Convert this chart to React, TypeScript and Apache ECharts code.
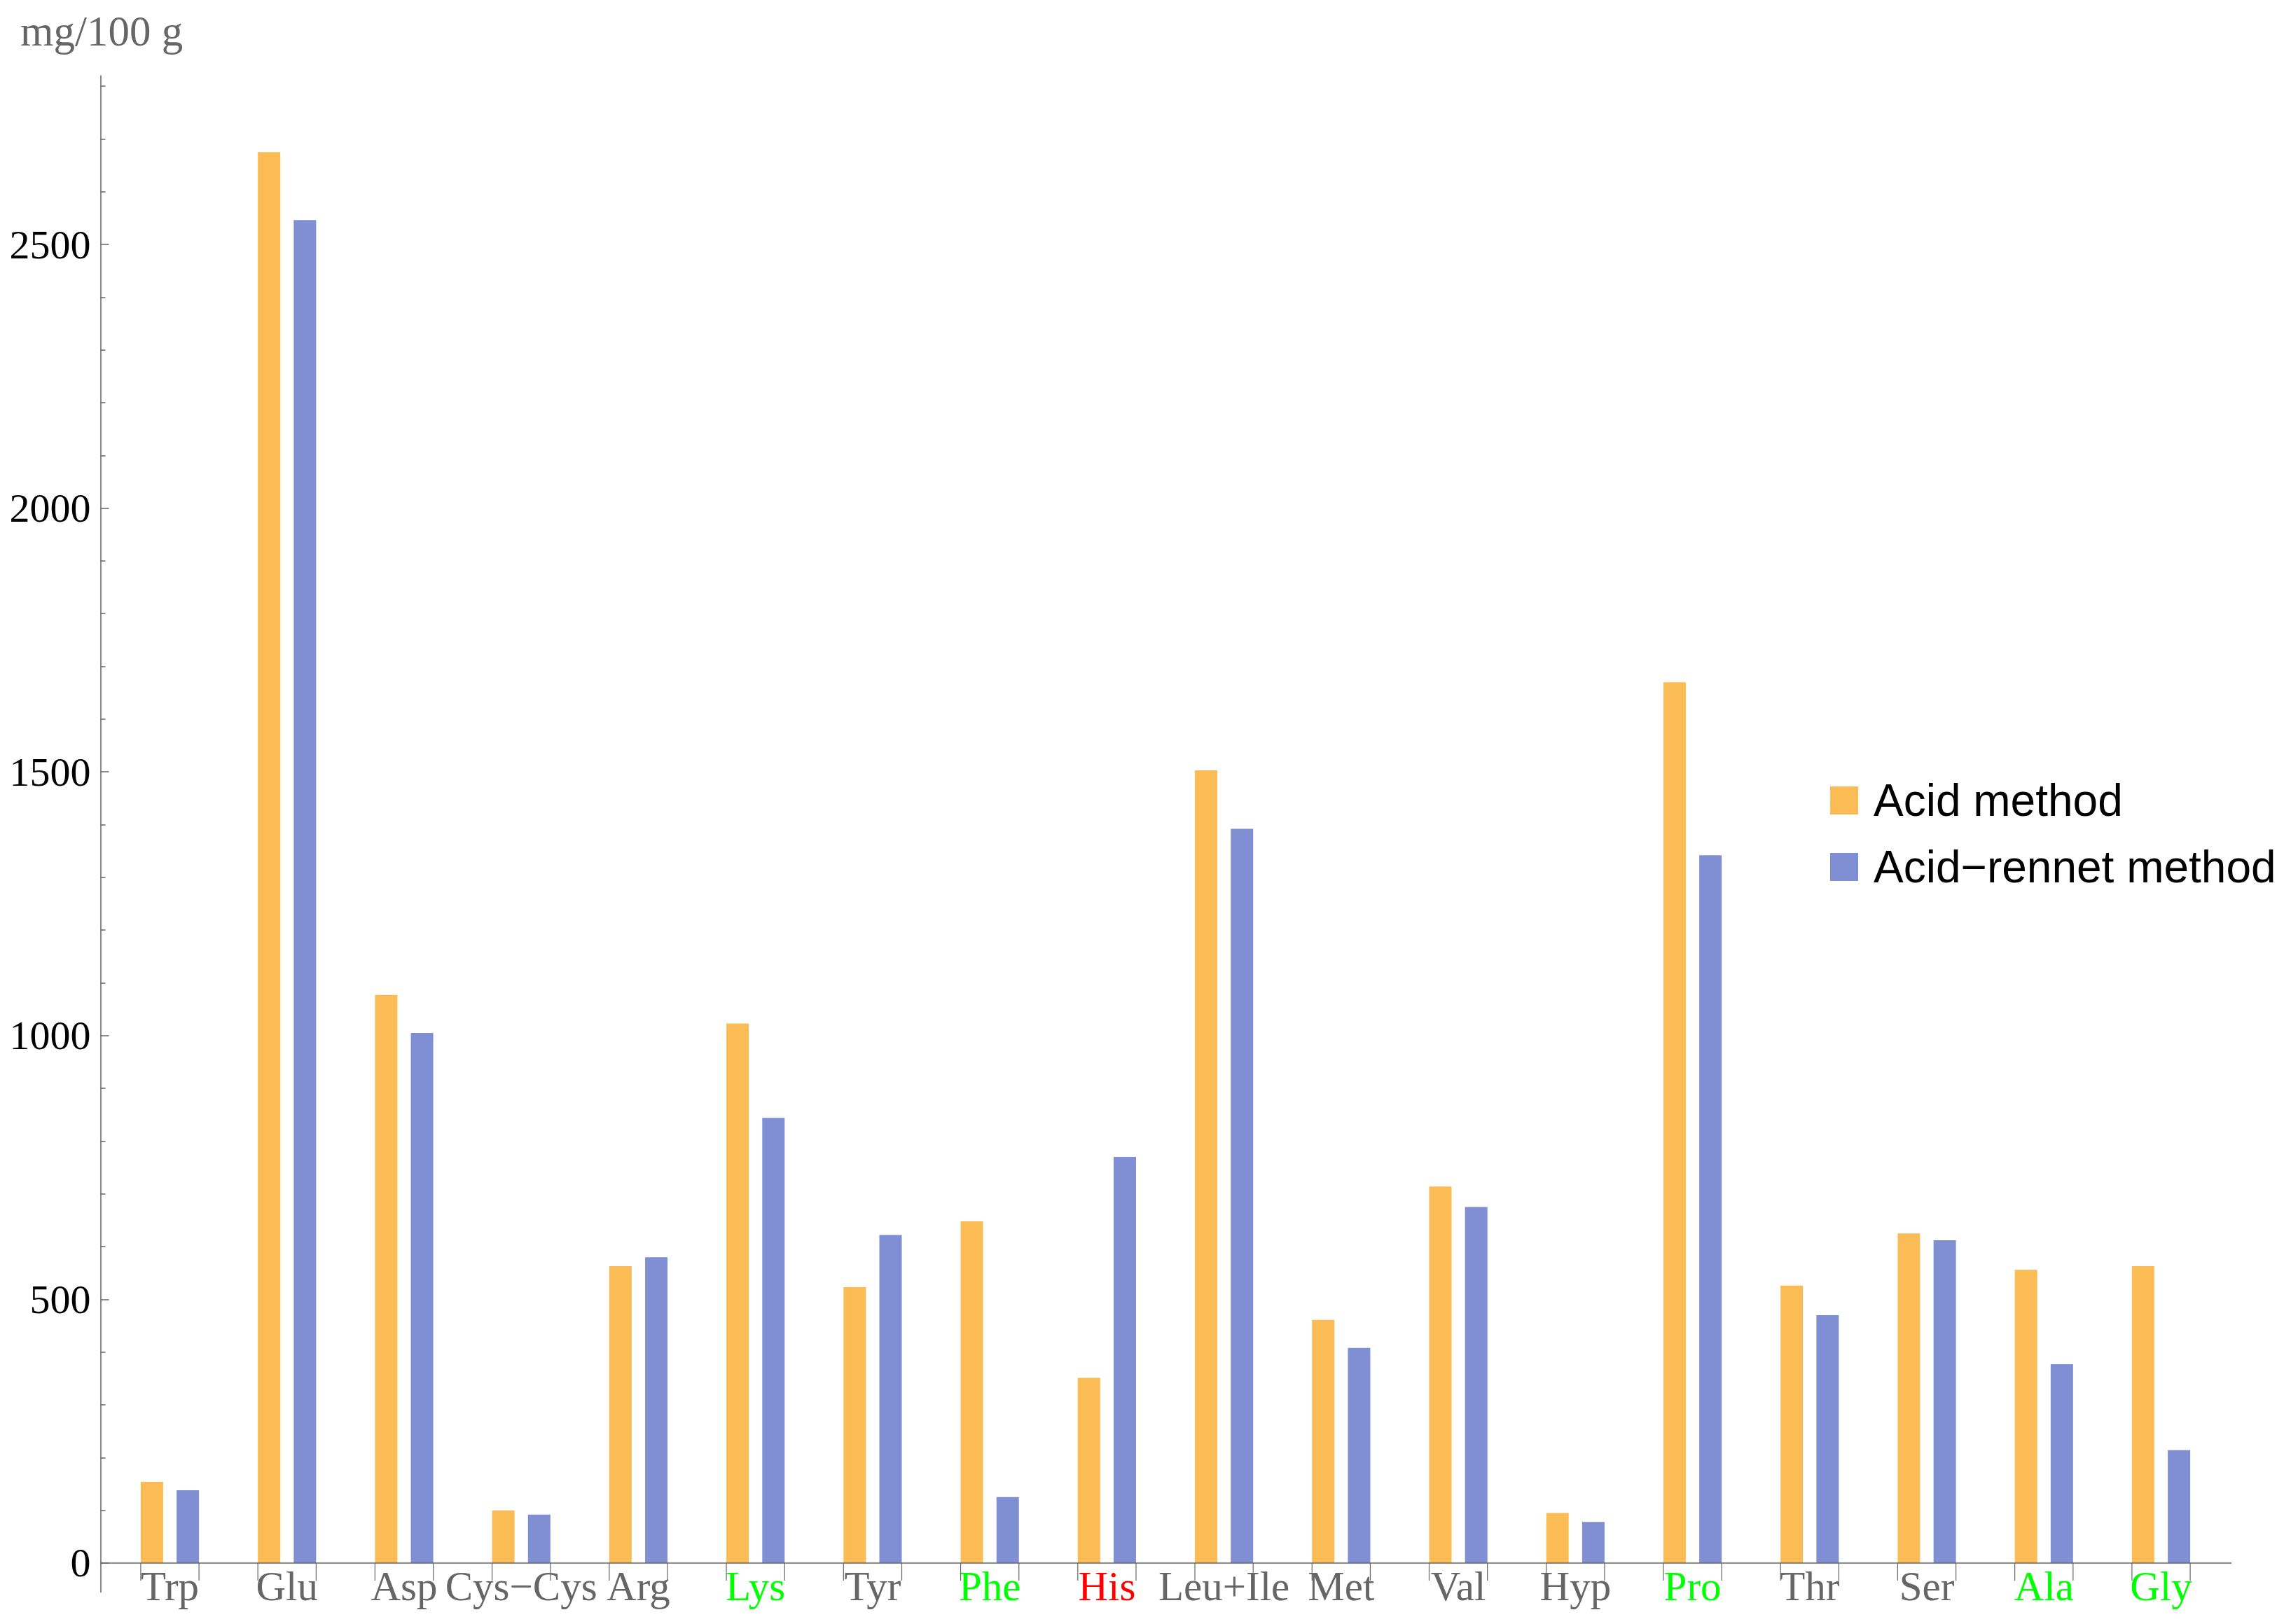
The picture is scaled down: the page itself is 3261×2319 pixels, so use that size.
import React, { useEffect, useRef } from "react";
import * as echarts from "echarts";

const categories = ["Trp", "Glu", "Asp", "Cys−Cys", "Arg", "Lys", "Tyr", "Phe", "His", "Leu+Ile", "Met", "Val", "Hyp", "Pro", "Thr", "Ser", "Ala", "Gly"];
const labelColors = ["#666666", "#666666", "#666666", "#666666", "#666666", "#00FF00", "#666666", "#00FF00", "#FF0000", "#666666", "#666666", "#666666", "#666666", "#00FF00", "#666666", "#666666", "#00FF00", "#00FF00"];
const acidMethod = [154, 2675, 1077, 100, 563, 1023, 523, 648, 351, 1503, 461, 714, 95, 1670, 526, 625, 556, 563];
const acidRennetMethod = [138, 2546, 1005, 92, 580, 844, 622, 125, 770, 1392, 408, 675, 78, 1342, 470, 612, 377, 214];
const seriesNames = ["Acid method", "Acid−rennet method"];
const majorTicks = [0, 500, 1000, 1500, 2000, 2500];
const minorTicks = [100, 200, 300, 400, 600, 700, 800, 900, 1100, 1200, 1300, 1400, 1600, 1700, 1800, 1900, 2100, 2200, 2300, 2400, 2600, 2700, 2800];
const yName = "mg/100 g";

const ORANGE = "#FBBC55";
const BLUE = "#808FD4";
const AXIS = "#666666";
const SERIF = "'Liberation Serif', 'Times New Roman', serif";
const SANS = "'Liberation Sans', Arial, sans-serif";

export default function App() {
  const ref = useRef<HTMLDivElement>(null);
  useEffect(() => {
    if (!ref.current) return;
    const chart = echarts.init(ref.current, null, { renderer: "svg" });
    const W = 3261;
    const gridLeft = 158.9;
    const gridRight = 91.9;
    const yOffset = gridLeft - 143.5;
    const half = 41.6;
    const option: any = {
      animation: false,
      backgroundColor: "#ffffff",
      grid: { left: gridLeft, right: gridRight, top: 108, bottom: 45.6, containLabel: false, outerBoundsMode: "none" },
      legend: {
        orient: "vertical",
        left: 2608,
        top: 1106,
        itemWidth: 40,
        itemHeight: 40,
        itemGap: 31,
        icon: "rect",
        data: seriesNames,
        textStyle: { fontSize: 64, fontFamily: SANS, color: "#000000", padding: [0, 0, 0, 17] },
      },
      xAxis: {
        type: "category",
        data: categories.map((c, i) => ({ value: c, textStyle: { color: labelColors[i] } })),
        boundaryGap: true,
        axisLine: { show: false, onZero: false },
        axisTick: { show: false },
        axisLabel: { margin: -38, fontSize: 59, fontFamily: SERIF, color: AXIS, interval: 0 },
        splitLine: { show: false },
      },
      yAxis: [
        {
          type: "value",
          position: "left",
          min: -55,
          max: 2820,
          offset: yOffset,
          axisLine: { show: true, onZero: false, lineStyle: { color: AXIS, width: 1.5 } },
          axisTick: { show: true, inside: true, length: 12, customValues: majorTicks, lineStyle: { color: AXIS, width: 1.5 } },
          axisLabel: { customValues: majorTicks, margin: 14, fontSize: 58, fontFamily: SERIF, color: "#000000", formatter: (v: number) => String(v) },
          splitLine: { show: false },
        },
        {
          type: "value",
          position: "left",
          min: -55,
          max: 2820,
          offset: yOffset,
          axisLine: { show: false, onZero: false },
          axisTick: { show: true, inside: true, length: 7, customValues: minorTicks, lineStyle: { color: AXIS, width: 1.5 } },
          axisLabel: { show: false, customValues: minorTicks },
          splitLine: { show: false },
        },
      ],
      series: [
        {
          name: seriesNames[0],
          type: "bar",
          yAxisIndex: 0,
          data: acidMethod,
          barWidth: 32,
          barGap: "60%",
          itemStyle: { color: ORANGE },
        },
        {
          name: seriesNames[1],
          type: "bar",
          yAxisIndex: 0,
          data: acidRennetMethod,
          barWidth: 32,
          barGap: "60%",
          itemStyle: { color: BLUE },
        },
        {
          name: "ticks",
          type: "custom",
          yAxisIndex: 0,
          clip: false,
          silent: true,
          data: categories.map((c, i) => [i, 0]),
          renderItem: (params: any, api: any) => {
            const p = api.coord([api.value(0), 0]);
            return {
              type: "group",
              children: [
                { type: "line", shape: { x1: p[0] - half, y1: p[1], x2: p[0] - half, y2: p[1] + 25 }, style: { stroke: AXIS, lineWidth: 1.2 } },
                { type: "line", shape: { x1: p[0] + half, y1: p[1], x2: p[0] + half, y2: p[1] + 25 }, style: { stroke: AXIS, lineWidth: 1.2 } },
              ],
            };
          },
        },
      ],
    };
    chart.setOption(option);
    const y0 = chart.convertToPixel({ yAxisIndex: 0 }, 0) as number;
    chart.setOption({
      graphic: [
        {
          type: "line",
          silent: true,
          shape: { x1: gridLeft - yOffset, y1: y0, x2: W - gridRight + 17, y2: y0 },
          style: { stroke: AXIS, lineWidth: 1.5 },
          z: 10,
        },
        {
          type: "text",
          left: 29,
          top: 14,
          style: { text: yName, font: `61px ${SERIF}`, fill: AXIS },
        },
      ],
    });
    return () => chart.dispose();
  }, []);
  return <div ref={ref} style={{ position: "absolute", left: 0, top: 0, width: 3261, height: 2319 }} />;
}
